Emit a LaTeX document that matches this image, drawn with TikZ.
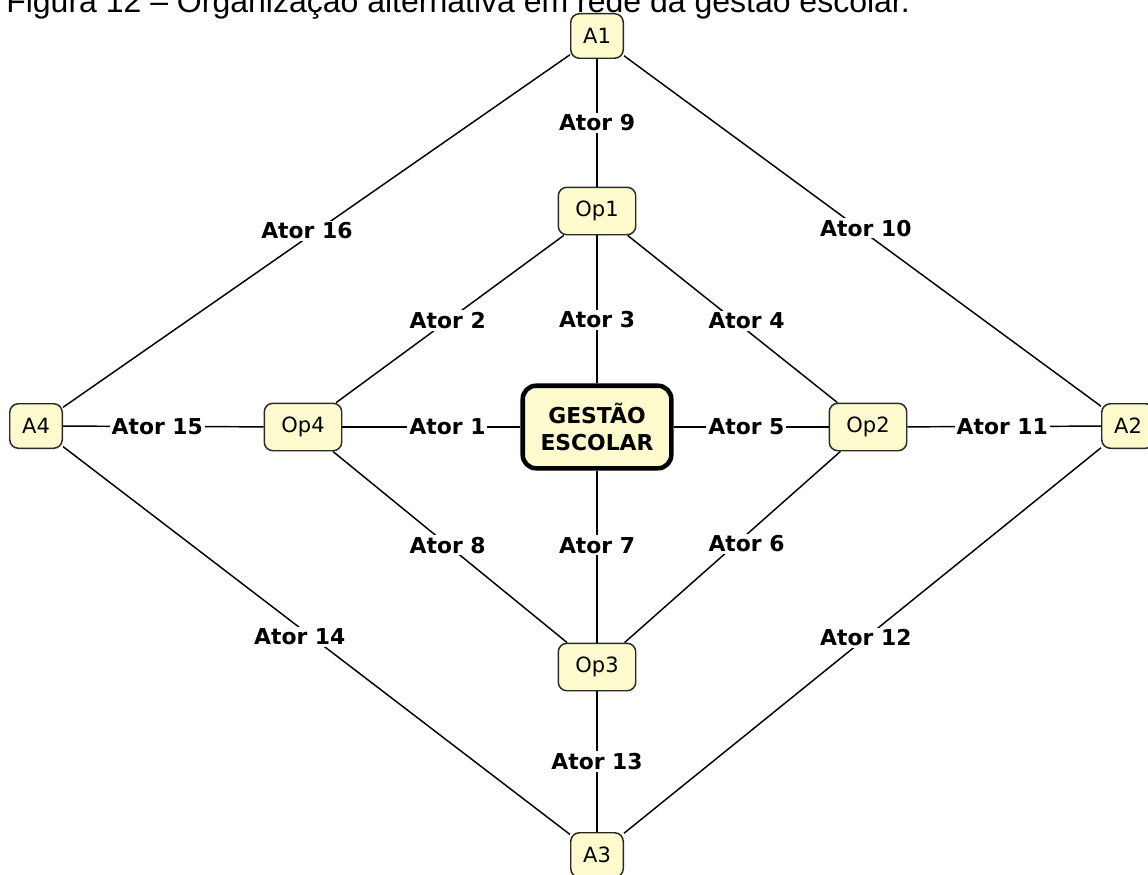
\documentclass[tikz,border=0pt]{standalone}
\usepackage{fontspec}
\setmainfont{DejaVu Sans}
\newfontfamily\titlefont{Liberation Sans}
\definecolor{boxfill}{RGB}{253,251,206}
\definecolor{boxline}{RGB}{40,40,40}
\begin{document}
\begin{tikzpicture}[x=0.75pt,y=-0.75pt,
  every node/.style={font=\fontsize{15.75pt}{20pt}\selectfont},
  actor/.style={draw=boxline, line width=1.1pt, fill=boxfill, rounded corners=6.5pt,
    inner sep=0pt, minimum width=39.4pt, minimum height=33.4pt},
  oper/.style={draw=boxline, line width=1.1pt, fill=boxfill, rounded corners=6.5pt,
    inner sep=0pt, minimum width=58.1pt, minimum height=35.6pt},
  hub/.style={draw=black, line width=3.4pt, fill=boxfill, rounded corners=10pt,
    inner sep=0pt, minimum width=111.4pt, minimum height=61.9pt, align=center,
    font=\fontsize{16.4pt}{20.5pt}\selectfont\bfseries},
  link/.style={draw=black, line width=1.1pt},
  lbl/.style={fill=white, inner sep=1.5pt, font=\fontsize{16.4pt}{20pt}\selectfont\bfseries}]
\useasboundingbox (0,0) rectangle (1148,874);
\clip (0,0) rectangle (1148,874);

% caption line, partly above the top edge
\node[anchor=base west, inner sep=0pt, font=\titlefont\fontsize{24pt}{28pt}\selectfont]
  (title) at (6,12.5) {Figura 12 – Organização alternativa em rede da gestão escolar.};

% nodes
\node[actor] (A1) at (597,36) {A1};
\node[actor] (A2) at (1128,426) {A2};
\node[actor] (A3) at (597,855) {A3};
\node[actor] (A4) at (36,426) {A4};
\node[oper] (Op1) at (597,211) {Op1};
\node[oper] (Op2) at (868,427) {Op2};
\node[oper] (Op3) at (597,667) {Op3};
\node[oper] (Op4) at (303,427) {Op4};
\node[hub] (G) at (597,427) {GESTÃO\\ESCOLAR};

% inner star
\draw[link] (Op4) -- node[lbl,pos=0.59] {Ator 1} (G);
\draw[link] (Op1) -- node[lbl,pos=0.51] {Ator 2} (Op4);
\draw[link] (Op1) -- node[lbl,pos=0.57] {Ator 3} (G);
\draw[link] (Op1) -- node[lbl,pos=0.567,yshift=7pt] {Ator 4} (Op2);
\draw[link] (G) -- node[lbl,pos=0.47] {Ator 5} (Op2);
\draw[link] (Op2) -- node[lbl,pos=0.435,yshift=-7pt] {Ator 6} (Op3);
\draw[link] (G) -- node[lbl,pos=0.434] {Ator 7} (Op3);
\draw[link] (Op4) -- node[lbl,pos=0.49] {Ator 8} (Op3);

% outer ring
\draw[link] (A1) -- node[lbl,pos=0.5] {Ator 9} (Op1);
\draw[link] (A1) -- node[lbl,pos=0.507,yshift=4pt] {Ator 10} (A2);
\draw[link] (Op2) -- node[lbl,pos=0.49] {Ator 11} (A2);
\draw[link] (A2) -- node[lbl,pos=0.493] {Ator 12} (A3);
\draw[link] (Op3) -- node[lbl,pos=0.5] {Ator 13} (A3);
\draw[link] (A4) -- node[lbl,pos=0.467,yshift=-7pt] {Ator 14} (A3);
\draw[link] (A4) -- node[lbl,pos=0.47] {Ator 15} (Op4);
\draw[link] (A1) -- node[lbl,pos=0.519,yshift=5pt] {Ator 16} (A4);
\end{tikzpicture}
\end{document}
